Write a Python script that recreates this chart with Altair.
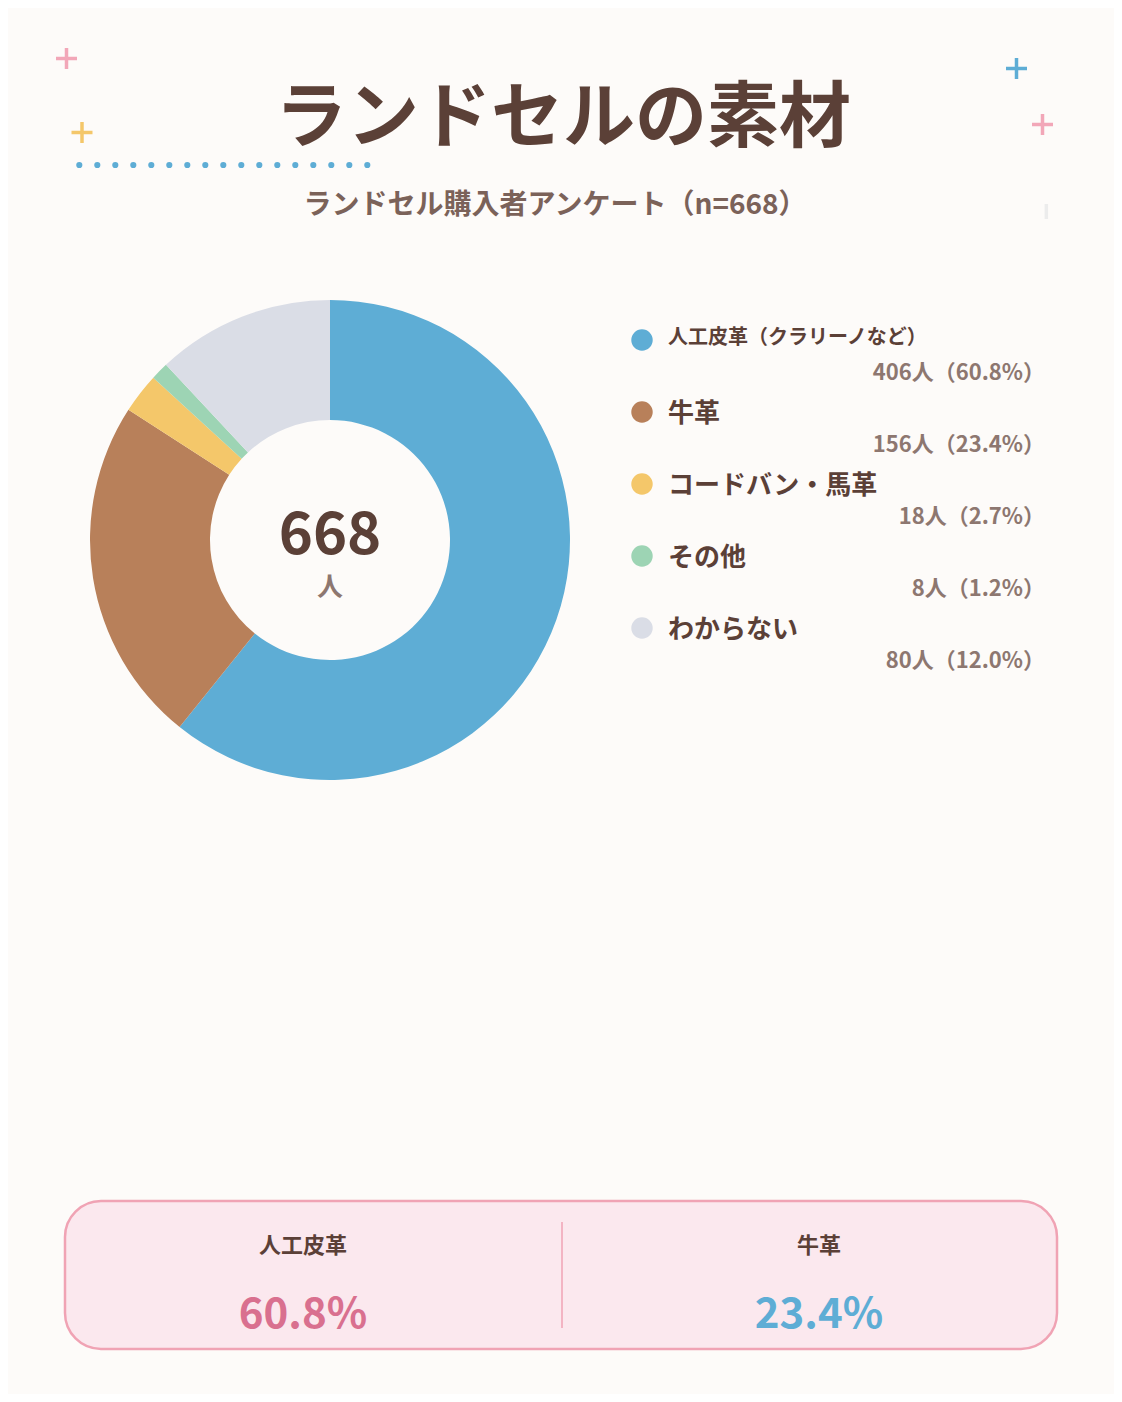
import altair as alt
import pandas as pd

# ---- data ----
categories = ["人工皮革（クラリーノなど）", "牛革", "コードバン・馬革", "その他", "わからない"]
counts = [406, 156, 18, 8, 80]
percents = [60.8, 23.4, 2.7, 1.2, 12.0]
colors = ["#5eadd5", "#b8805a", "#f4c76a", "#9dd4b4", "#dadde6"]
total = 668
title = "ランドセルの素材"
subtitle = "ランドセル購入者アンケート（n=668）"
highlight_labels = ["人工皮革", "牛革"]
highlight_values = [60.8, 23.4]
highlight_colors = ["#d9708f", "#5eadd5"]

FONT = "Noto Sans CJK JP"
DARK = "#5b4037"
MID = "#7b6259"
SOFT = "#8d7770"
BG = "#fdfbf9"

W, H = 1106, 1386
X = lambda f: alt.X(f, type="quantitative", scale=alt.Scale(domain=[8, 8 + W]), axis=None)
Y = lambda f: alt.Y(f, type="quantitative", scale=alt.Scale(domain=[8, 8 + H], reverse=True), axis=None)
X2 = lambda f: alt.X2(f)
Y2 = lambda f: alt.Y2(f)

def text_layer(rows, **kw):
    df = pd.DataFrame(rows)
    return alt.Chart(df).mark_text(font=FONT, baseline="middle", **kw).encode(
        x=X("px"), y=Y("py"), text="t:N")

# ---- donut ----
donut_df = pd.DataFrame({"category": categories, "count": counts, "order": list(range(len(categories)))})
donut = alt.Chart(donut_df).mark_arc(radius=240, radius2=120).encode(
    theta=alt.Theta("count:Q", stack=True),
    order=alt.Order("order:Q"),
    color=alt.Color("category:N", scale=alt.Scale(domain=categories, range=colors), legend=None),
    x=alt.value(330 - 8), y=alt.value(540 - 8),
)

center_num = text_layer([{"px": 330, "py": 537, "t": str(total)}], fontSize=58, fontWeight="bold", color=DARK)
center_unit = text_layer([{"px": 330, "py": 588, "t": "人"}], fontSize=26, fontWeight="bold", color=SOFT)

# ---- title & decorations ----
title_t = text_layer([{"px": 563, "py": 119, "t": title}], fontSize=72, fontWeight="bold", color=DARK)
sub_t = text_layer([{"px": 555, "py": 206, "t": subtitle}], fontSize=28, fontWeight="bold", color=MID)

plus_centers = [(66.5, 58.5, "#f2a7b8"), (82, 132.5, "#f4c76a"), (1016.5, 68.5, "#5eadd5"), (1042.5, 124.5, "#f2a7b8")]
seg_rows = []
for cx, cy, c in plus_centers:
    seg_rows.append({"x1": cx - 10.5, "x2": cx + 10.5, "y1": cy, "y2": cy, "c": c})
    seg_rows.append({"x1": cx, "x2": cx, "y1": cy - 10.5, "y2": cy + 10.5, "c": c})
seg_rows.append({"x1": 1046.3, "x2": 1046.3, "y1": 204, "y2": 219, "c": "#ececec"})
plus = alt.Chart(pd.DataFrame(seg_rows)).mark_rule(strokeWidth=3.5).encode(
    x=X("x1"), x2=X2("x2"), y=Y("y1"), y2=Y2("y2"),
    color=alt.Color("c:N", scale=None))

dots_df = pd.DataFrame({"px": [79.3 + 18 * i for i in range(17)], "py": [165] * 17})
dots = alt.Chart(dots_df).mark_circle(size=38, opacity=1, color="#5eadd5").encode(x=X("px"), y=Y("py"))

# ---- custom legend ----
leg_y = [340, 412, 484, 556, 628]
leg_df = pd.DataFrame({"category": categories, "px": [642] * 5, "py": leg_y})
leg_dots = alt.Chart(leg_df).mark_circle(size=460, opacity=1).encode(
    x=X("px"), y=Y("py"),
    color=alt.Color("category:N", scale=alt.Scale(domain=categories, range=colors), legend=None))
leg_first = text_layer([{"px": 668, "py": 338, "t": categories[0]}], fontSize=20, fontWeight="bold", color=DARK, align="left")
leg_rest = text_layer([{"px": 668, "py": y + 2, "t": c} for c, y in zip(categories[1:], leg_y[1:])],
                      fontSize=26, fontWeight="bold", color=DARK, align="left")
leg_vals = text_layer([{"px": 1045, "py": y + 33, "t": f"{n}人（{p:.1f}%）"} for n, p, y in zip(counts, percents, leg_y)],
                      fontSize=22, fontWeight="bold", color=SOFT, align="right")

# ---- bottom highlight box ----
box = alt.Chart(pd.DataFrame([{"x1": 65, "x2": 1057, "y1": 1201, "y2": 1349}])).mark_rect(
    cornerRadius=36, fill="#fbe8ee", stroke="#f0a3b4", strokeWidth=2.5).encode(
    x=X("x1"), x2=X2("x2"), y=Y("y1"), y2=Y2("y2"))
divider = alt.Chart(pd.DataFrame([{"x1": 562, "y1": 1222, "y2": 1328}])).mark_rule(
    color="#f0a3b4", strokeWidth=1.5).encode(x=X("x1"), y=Y("y1"), y2=Y2("y2"))
hl_x = [303, 819]
hl_lab = text_layer([{"px": x, "py": 1246, "t": t} for x, t in zip(hl_x, highlight_labels)],
                    fontSize=22, fontWeight="bold", color=DARK)
hl_val_df = pd.DataFrame([{"px": x, "py": 1315, "t": f"{v:.1f}%", "c": c}
                          for x, v, c in zip(hl_x, highlight_values, highlight_colors)])
hl_val = alt.Chart(hl_val_df).mark_text(font=FONT, baseline="middle", fontSize=42, fontWeight="bold").encode(
    x=X("px"), y=Y("py"), text="t:N", color=alt.Color("c:N", scale=None))

chart = alt.layer(
    donut, center_num, center_unit, title_t, sub_t, plus, dots,
    leg_dots, leg_first, leg_rest, leg_vals, box, divider, hl_lab, hl_val
).properties(
    width=W, height=H, autosize=alt.AutoSizeParams(type="none"), padding=0, background=BG
).configure_view(stroke=None)

chart.save("out.html", embed_options={"renderer": "svg", "actions": False})
